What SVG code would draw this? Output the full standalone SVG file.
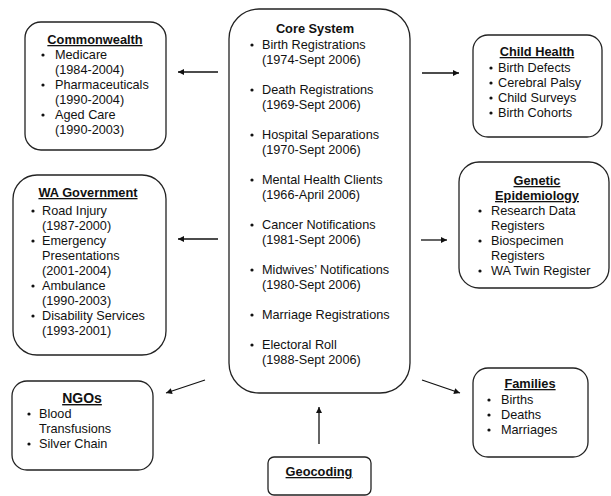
<svg xmlns="http://www.w3.org/2000/svg" width="611" height="496" viewBox="0 0 611 496">
<defs>
<style>
.box{fill:#fff;stroke:#222;stroke-width:1.3}
text{font-family:"Liberation Sans",Arial,sans-serif;fill:#111}
.t{font-size:12.8px;font-weight:bold;text-anchor:middle;text-decoration:underline}
.tc{font-size:12.8px;font-weight:bold;text-anchor:middle}
.b{font-size:12.7px}
.dot{fill:#111}
.arr{stroke:#111;stroke-width:1.3;fill:none;marker-end:url(#ah)}
</style>
<marker id="ah" viewBox="0 0 10 10" refX="10" refY="5" markerWidth="7" markerHeight="6" markerUnits="userSpaceOnUse" orient="auto">
<path d="M0,0 L10,5 L0,10 z" fill="#111"/>
</marker>
</defs>
<rect width="611" height="496" fill="#fff"/>
<g id="connectors">
<line class="arr" x1="218" y1="72" x2="178" y2="72"/>
<line class="arr" x1="218" y1="239" x2="178" y2="239"/>
<line class="arr" x1="205" y1="380" x2="166" y2="393"/>
<line class="arr" x1="319" y1="444" x2="319" y2="407"/>
<line class="arr" x1="422" y1="73" x2="459" y2="73"/>
<line class="arr" x1="421" y1="240" x2="447" y2="240"/>
<line class="arr" x1="422" y1="380" x2="460" y2="393"/>
</g>
<g id="commonwealth">
<rect class="box" x="25" y="22" width="141" height="128" rx="16"/>
<text class="t" x="95" y="44">Commonwealth</text>
<circle class="dot" cx="43" cy="55" r="1.6"/>
<circle class="dot" cx="43" cy="85" r="1.6"/>
<circle class="dot" cx="43" cy="115" r="1.6"/>
<text class="b" x="55" y="59">Medicare</text>
<text class="b" x="55" y="74">(1984-2004)</text>
<text class="b" x="55" y="89">Pharmaceuticals</text>
<text class="b" x="55" y="104">(1990-2004)</text>
<text class="b" x="55" y="119">Aged Care</text>
<text class="b" x="55" y="134">(1990-2003)</text>
</g>
<g id="wa-government">
<rect class="box" x="13" y="175" width="153" height="180" rx="24"/>
<text class="t" x="88" y="197">WA Government</text>
<circle class="dot" cx="33" cy="211" r="1.6"/>
<circle class="dot" cx="33" cy="241" r="1.6"/>
<circle class="dot" cx="33" cy="286" r="1.6"/>
<circle class="dot" cx="33" cy="316" r="1.6"/>
<text class="b" x="42" y="215">Road Injury</text>
<text class="b" x="42" y="230">(1987-2000)</text>
<text class="b" x="42" y="245">Emergency</text>
<text class="b" x="42" y="260">Presentations</text>
<text class="b" x="42" y="275">(2001-2004)</text>
<text class="b" x="42" y="290">Ambulance</text>
<text class="b" x="42" y="305">(1990-2003)</text>
<text class="b" x="42" y="320">Disability Services</text>
<text class="b" x="42" y="335">(1993-2001)</text>
</g>
<g id="ngos">
<rect class="box" x="12" y="381" width="141" height="89" rx="15"/>
<text class="t" x="82" y="403" style="font-size:14px">NGOs</text>
<circle class="dot" cx="29" cy="414" r="1.6"/>
<circle class="dot" cx="29" cy="444" r="1.6"/>
<text class="b" x="39" y="418">Blood</text>
<text class="b" x="39" y="433">Transfusions</text>
<text class="b" x="39" y="448">Silver Chain</text>
</g>
<g id="core-system">
<rect class="box" x="229" y="9" width="181" height="384" rx="30"/>
<text class="tc" x="315" y="33">Core System</text>
<circle class="dot" cx="252" cy="45" r="1.6"/>
<circle class="dot" cx="252" cy="90" r="1.6"/>
<circle class="dot" cx="252" cy="135" r="1.6"/>
<circle class="dot" cx="252" cy="180" r="1.6"/>
<circle class="dot" cx="252" cy="225" r="1.6"/>
<circle class="dot" cx="252" cy="270" r="1.6"/>
<circle class="dot" cx="252" cy="315" r="1.6"/>
<circle class="dot" cx="252" cy="345" r="1.6"/>
<text class="b" x="262" y="49">Birth Registrations</text>
<text class="b" x="262" y="64">(1974-Sept 2006)</text>
<text class="b" x="262" y="94">Death Registrations</text>
<text class="b" x="262" y="109">(1969-Sept 2006)</text>
<text class="b" x="262" y="139">Hospital Separations</text>
<text class="b" x="262" y="154">(1970-Sept 2006)</text>
<text class="b" x="262" y="184">Mental Health Clients</text>
<text class="b" x="262" y="199">(1966-April 2006)</text>
<text class="b" x="262" y="229">Cancer Notifications</text>
<text class="b" x="262" y="244">(1981-Sept 2006)</text>
<text class="b" x="262" y="274">Midwives’ Notifications</text>
<text class="b" x="262" y="289">(1980-Sept 2006)</text>
<text class="b" x="262" y="319">Marriage Registrations</text>
<text class="b" x="262" y="349">Electoral Roll</text>
<text class="b" x="262" y="364">(1988-Sept 2006)</text>
</g>
<g id="geocoding">
<rect class="box" x="268" y="457" width="103" height="38" rx="6"/>
<text class="t" x="319" y="476">Geocoding</text>
</g>
<g id="child-health">
<rect class="box" x="473" y="35" width="129" height="102" rx="15"/>
<text class="t" x="537" y="56">Child Health</text>
<circle class="dot" cx="491" cy="68" r="1.6"/>
<circle class="dot" cx="491" cy="83" r="1.6"/>
<circle class="dot" cx="491" cy="98" r="1.6"/>
<circle class="dot" cx="491" cy="113" r="1.6"/>
<text class="b" x="498" y="72">Birth Defects</text>
<text class="b" x="498" y="87">Cerebral Palsy</text>
<text class="b" x="498" y="102">Child Surveys</text>
<text class="b" x="498" y="117">Birth Cohorts</text>
</g>
<g id="genetic-epidemiology">
<rect class="box" x="459" y="162" width="150" height="126" rx="20"/>
<text class="t" x="537" y="185">Genetic</text>
<text class="t" x="537" y="200">Epidemiology</text>
<circle class="dot" cx="480" cy="211" r="1.6"/>
<circle class="dot" cx="480" cy="241" r="1.6"/>
<circle class="dot" cx="480" cy="271" r="1.6"/>
<text class="b" x="491" y="215">Research Data</text>
<text class="b" x="491" y="230">Registers</text>
<text class="b" x="491" y="245">Biospecimen</text>
<text class="b" x="491" y="260">Registers</text>
<text class="b" x="491" y="275">WA Twin Register</text>
</g>
<g id="families">
<rect class="box" x="473" y="368" width="115" height="89" rx="15"/>
<text class="t" x="530" y="388">Families</text>
<circle class="dot" cx="489" cy="400" r="1.6"/>
<circle class="dot" cx="489" cy="415" r="1.6"/>
<circle class="dot" cx="489" cy="430" r="1.6"/>
<text class="b" x="501" y="404">Births</text>
<text class="b" x="501" y="419">Deaths</text>
<text class="b" x="501" y="434">Marriages</text>
</g>
</svg>
